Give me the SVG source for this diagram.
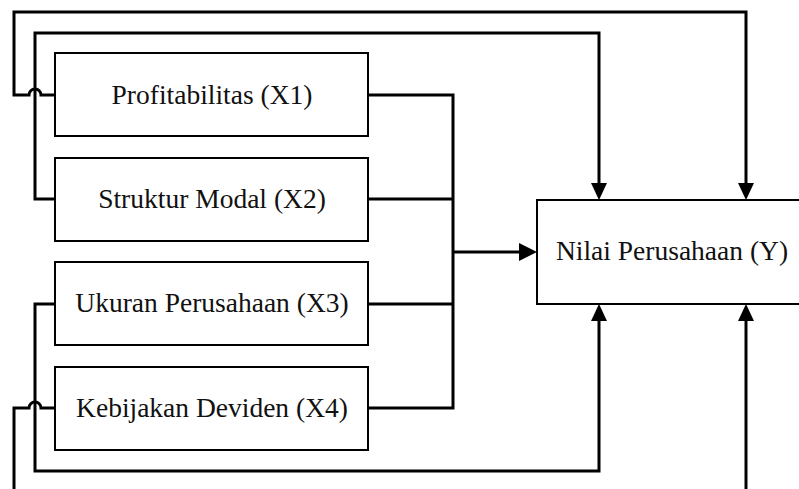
<svg xmlns="http://www.w3.org/2000/svg" width="799" height="489" viewBox="0 0 799 489">
<defs>
<style>
.box{fill:#fff;stroke:#000;stroke-width:2}
.lbl{font-family:"Liberation Serif","Times New Roman",serif;font-size:27.5px;fill:#111;text-anchor:middle}
.c{fill:none;stroke:#000;stroke-width:3}
</style>
</defs>
<rect width="799" height="489" fill="#fff"/>
<g id="connectors">
<path class="c" d="M368,95 H453 V408 H368"/>
<path class="c" d="M368,199 H453"/>
<path class="c" d="M368,304 H453"/>
<path class="c" d="M453,252 H520"/>
<path d="M537,252 L519,243 L519,261 Z"/>
<path class="c" d="M55,95 H41 A6,6 0 0 0 29,95 H14 V12 H746 V184"/>
<path d="M746,200 L738,183 L754,183 Z"/>
<path class="c" d="M55,199 H35 V33 H599 V184"/>
<path d="M599,200 L591,183 L607,183 Z"/>
<path class="c" d="M55,304 H35 V471 H599 V320"/>
<path d="M599,304 L591,321 L607,321 Z"/>
<path class="c" d="M55,408 H41 A6,6 0 0 0 29,408 H14 V495"/>
<path class="c" d="M746,495 V320"/>
<path d="M746,304 L738,321 L754,321 Z"/>
</g>
<g id="x1"><rect class="box" x="55" y="53" width="313" height="83"/><text class="lbl" x="212" y="104">Profitabilitas (X1)</text></g>
<g id="x2"><rect class="box" x="55" y="158" width="313" height="83"/><text class="lbl" x="212" y="208">Struktur Modal (X2)</text></g>
<g id="x3"><rect class="box" x="55" y="262" width="313" height="83"/><text class="lbl" x="212" y="312">Ukuran Perusahaan (X3)</text></g>
<g id="x4"><rect class="box" x="55" y="367" width="313" height="83"/><text class="lbl" x="212" y="417">Kebijakan Deviden (X4)</text></g>
<g id="y"><rect class="box" x="537" y="200" width="275" height="104"/><text class="lbl" x="672" y="260">Nilai Perusahaan (Y)</text></g>
</svg>
